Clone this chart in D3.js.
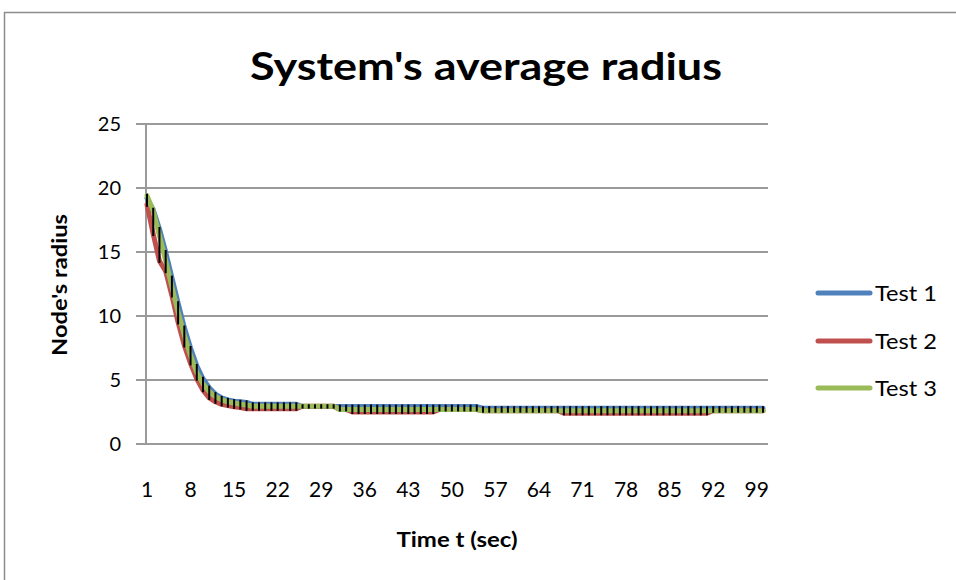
<!DOCTYPE html>
<html>
<head>
<meta charset="utf-8">
<script src="https://cdn.jsdelivr.net/npm/d3@7"></script>
<style>
  body { margin: 0; background: #fff; }
  text { font-family: Lato, "Open Sans", sans-serif; fill: #000; }
</style>
</head>
<body>
<script>
var categories = d3.range(1, 101);
var xTickLabels = [1, 8, 15, 22, 29, 36, 43, 50, 57, 64, 71, 78, 85, 92, 99];
var yTicks = [0, 5, 10, 15, 20, 25];
var seriesNames = ["Test 1", "Test 2", "Test 3"];
var colors = ["#4f81bd", "#c0504d", "#9bbb59"];

var test1 = [
  19.2, 18.3, 16.8, 15.0, 13.0, 11.0, 9.1, 7.5, 6.1, 5.1,
  4.4, 3.9, 3.6, 3.45, 3.35, 3.3, 3.25, 3.1, 3.1, 3.1,
  3.1, 3.1, 3.1, 3.1, 3.1, 2.92, 2.92, 2.92, 2.92, 2.92,
  2.92, 2.92, 2.92, 2.92, 2.92, 2.92, 2.92, 2.92, 2.92, 2.92,
  2.92, 2.92, 2.92, 2.92, 2.92, 2.92, 2.92, 2.92, 2.92, 2.92,
  2.92, 2.92, 2.92, 2.92, 2.8, 2.8, 2.8, 2.8, 2.8, 2.8,
  2.8, 2.8, 2.8, 2.8, 2.8, 2.8, 2.8, 2.8, 2.8, 2.8,
  2.8, 2.8, 2.8, 2.8, 2.8, 2.8, 2.8, 2.8, 2.8, 2.8,
  2.8, 2.8, 2.8, 2.8, 2.8, 2.8, 2.8, 2.8, 2.8, 2.8,
  2.8, 2.8, 2.8, 2.8, 2.8, 2.8, 2.8, 2.8, 2.8, 2.8
];
var test2 = [
  18.7, 16.4, 14.3, 13.5, 11.6, 9.5, 7.7, 6.3, 5.1, 4.2,
  3.6, 3.3, 3.1, 3.0, 2.9, 2.85, 2.75, 2.75, 2.75, 2.75,
  2.75, 2.75, 2.75, 2.75, 2.75, 2.95, 2.95, 2.95, 2.95, 2.95,
  2.95, 2.7, 2.7, 2.5, 2.5, 2.5, 2.5, 2.5, 2.5, 2.5,
  2.5, 2.5, 2.5, 2.5, 2.5, 2.5, 2.5, 2.7, 2.7, 2.7,
  2.7, 2.7, 2.7, 2.7, 2.6, 2.6, 2.6, 2.6, 2.6, 2.6,
  2.6, 2.6, 2.6, 2.6, 2.6, 2.6, 2.6, 2.4, 2.4, 2.4,
  2.4, 2.4, 2.4, 2.4, 2.4, 2.4, 2.4, 2.4, 2.4, 2.4,
  2.4, 2.4, 2.4, 2.4, 2.4, 2.4, 2.4, 2.4, 2.4, 2.4,
  2.4, 2.6, 2.6, 2.6, 2.6, 2.6, 2.6, 2.6, 2.6, 2.6
];
var test3 = [
  19.4, 18.2, 16.3, 14.3, 12.3, 10.3, 8.5, 6.9, 5.6, 4.7,
  4.1, 3.7, 3.45, 3.3, 3.2, 3.1, 3.05, 2.95, 2.95, 2.95,
  2.95, 2.95, 2.95, 2.95, 2.95, 2.95, 2.95, 2.95, 2.95, 2.95,
  2.95, 2.7, 2.7, 2.7, 2.7, 2.7, 2.7, 2.7, 2.7, 2.7,
  2.7, 2.7, 2.7, 2.7, 2.7, 2.7, 2.7, 2.7, 2.7, 2.7,
  2.7, 2.7, 2.7, 2.7, 2.6, 2.6, 2.6, 2.6, 2.6, 2.6,
  2.6, 2.6, 2.6, 2.6, 2.6, 2.6, 2.6, 2.6, 2.6, 2.6,
  2.6, 2.6, 2.6, 2.6, 2.6, 2.6, 2.6, 2.6, 2.6, 2.6,
  2.6, 2.6, 2.6, 2.6, 2.6, 2.6, 2.6, 2.6, 2.6, 2.6,
  2.6, 2.6, 2.6, 2.6, 2.6, 2.6, 2.6, 2.6, 2.6, 2.6
];
var allSeries = [test1, test2, test3];

var svg = d3.select("body")
    .append("svg")
    .attr("width", 956)
    .attr("height", 580);

// chart frame
svg.append("rect")
    .attr("x", 4.5)
    .attr("y", 12.5)
    .attr("width", 960)
    .attr("height", 600)
    .attr("fill", "#fff")
    .attr("stroke", "#8c8c8c")
    .attr("stroke-width", 1.5);

var x = d3.scalePoint().domain(categories).range([147, 763]);
var y = d3.scaleLinear().domain([0, 25]).range([444, 124]);
var plotLeft = 146, plotRight = 768;

// gridlines
svg.append("g")
    .selectAll("line")
    .data(yTicks)
    .enter()
    .append("line")
    .attr("x1", 136)
    .attr("x2", plotRight)
    .attr("y1", function(d){ return y(d); })
    .attr("y2", function(d){ return y(d); })
    .attr("stroke", "#9a9a9a")
    .attr("stroke-width", 2);

// y axis line
svg.append("line")
    .attr("x1", plotLeft).attr("x2", plotLeft)
    .attr("y1", y(25)).attr("y2", y(0))
    .attr("stroke", "#9a9a9a")
    .attr("stroke-width", 2);

// y tick labels
svg.append("g")
    .selectAll("text")
    .data(yTicks)
    .enter()
    .append("text")
    .attr("x", 121)
    .attr("y", function(d){ return y(d) + 7; })
    .attr("text-anchor", "end")
    .style("font-size", "20px")
    .text(function(d){ return d; });

// x tick labels
svg.append("g")
    .selectAll("text")
    .data(xTickLabels)
    .enter()
    .append("text")
    .attr("x", function(d){ return x(d); })
    .attr("y", 497)
    .attr("text-anchor", "middle")
    .style("font-size", "21px")
    .text(function(d){ return d; });

// series lines
var line = d3.line()
    .x(function(d, i){ return x(categories[i]); })
    .y(function(d){ return y(d); });

allSeries.forEach(function(s, k){
    svg.append("path")
        .datum(s)
        .attr("d", line)
        .attr("fill", "none")
        .attr("stroke", colors[k])
        .attr("stroke-width", 5)
        .attr("stroke-linecap", "round")
        .attr("stroke-linejoin", "round");
});

// high-low lines
svg.append("g")
    .selectAll("line")
    .data(categories)
    .enter()
    .append("line")
    .attr("x1", function(d){ return x(d); })
    .attr("x2", function(d){ return x(d); })
    .attr("y1", function(d, i){ return y(d3.max(allSeries, function(s){ return s[i]; })) - 2; })
    .attr("y2", function(d, i){ return y(d3.min(allSeries, function(s){ return s[i]; })) + 2; })
    .attr("stroke", "#000")
    .attr("stroke-width", 2);

// title
svg.append("text")
    .attr("x", 486)
    .attr("y", 80)
    .attr("text-anchor", "middle")
    .attr("textLength", 472)
    .attr("lengthAdjust", "spacingAndGlyphs")
    .style("font-size", "38px")
    .style("font-weight", "bold")
    .text("System's average radius");

// axis titles
svg.append("text")
    .attr("x", 457)
    .attr("y", 547)
    .attr("text-anchor", "middle")
    .attr("textLength", 121)
    .attr("lengthAdjust", "spacingAndGlyphs")
    .style("font-size", "20px")
    .style("font-weight", "bold")
    .text("Time t (sec)");

svg.append("text")
    .attr("transform", "translate(67,285) rotate(-90)")
    .attr("text-anchor", "middle")
    .attr("textLength", 142)
    .attr("lengthAdjust", "spacingAndGlyphs")
    .style("font-size", "20px")
    .style("font-weight", "bold")
    .text("Node's radius");

// legend
var legend = svg.append("g")
    .selectAll("g")
    .data(seriesNames)
    .enter()
    .append("g")
    .attr("transform", function(d, i){ return "translate(0," + [293, 341, 388][i] + ")"; });

legend.append("line")
    .attr("x1", 818).attr("x2", 870)
    .attr("y1", 0).attr("y2", 0)
    .attr("stroke", function(d, i){ return colors[i]; })
    .attr("stroke-width", 5)
    .attr("stroke-linecap", "round");

legend.append("text")
    .attr("x", 875)
    .attr("y", 8)
    .attr("textLength", 62)
    .attr("lengthAdjust", "spacingAndGlyphs")
    .style("font-size", "22px")
    .text(function(d){ return d; });
</script>
</body>
</html>
